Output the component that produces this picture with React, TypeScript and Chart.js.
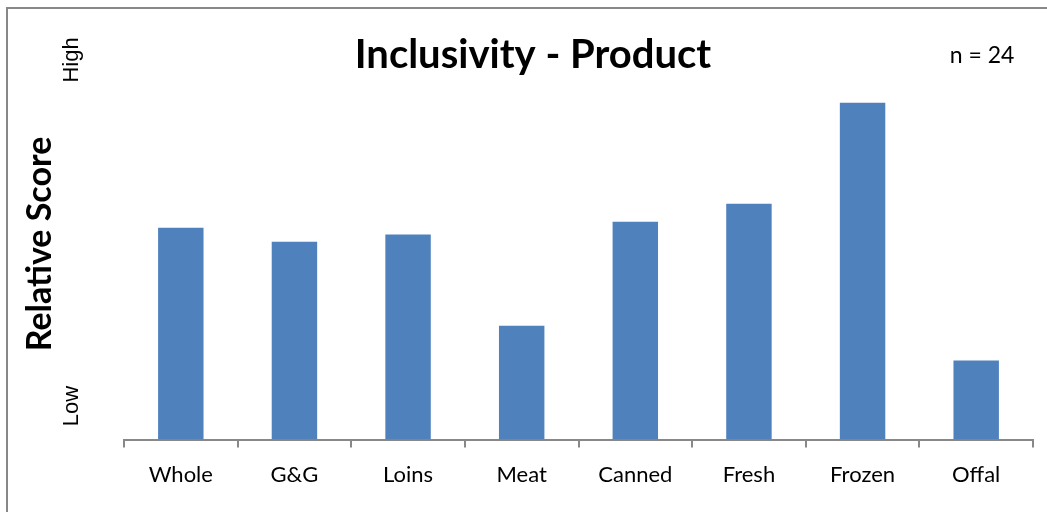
import React, { useEffect, useRef } from "react";
import { Chart, registerables } from "chart.js";

Chart.register(...registerables);

const categories = ["Whole", "G&G", "Loins", "Meat", "Canned", "Fresh", "Frozen", "Offal"];
const scores = [53, 49.5, 51.3, 28.5, 54.5, 59, 84.3, 19.8];
const titleText = "Inclusivity - Product";
const sampleText = "n = 24";
const yAxisTitle = "Relative Score";
const highLabel = "High";
const lowLabel = "Low";

const FONT = "Lato, 'Open Sans', sans-serif";

const decorPlugin = {
  id: "decor",
  afterDraw(chart: any) {
    const ctx = chart.ctx as CanvasRenderingContext2D;
    ctx.save();
    // outer border
    ctx.strokeStyle = "#888888";
    ctx.lineWidth = 2;
    ctx.beginPath();
    ctx.moveTo(7, 530);
    ctx.lineTo(7, 8);
    ctx.lineTo(1060, 8);
    ctx.stroke();

    ctx.fillStyle = "#000000";
    // title
    ctx.font = `bold 40px ${FONT}`;
    ctx.textAlign = "center";
    ctx.textBaseline = "middle";
    ctx.fillText(titleText, 533, 55);

    // n = 24
    ctx.font = `23px ${FONT}`;
    ctx.fillText(sampleText, 982, 56);

    // rotated labels
    const rot = (text: string, x: number, y: number, font: string) => {
      ctx.save();
      ctx.translate(x, y);
      ctx.rotate(-Math.PI / 2);
      ctx.font = font;
      ctx.textAlign = "center";
      ctx.textBaseline = "middle";
      ctx.fillText(text, 0, 0);
      ctx.restore();
    };
    rot(highLabel, 72, 60, "22px 'Liberation Sans', Arial, sans-serif");
    rot(lowLabel, 72, 406, "22px 'Liberation Sans', Arial, sans-serif");
    rot(yAxisTitle, 40, 244, `bold 34px ${FONT}`);
    ctx.restore();
  },
};

export default function App() {
  const canvasRef = useRef<HTMLCanvasElement | null>(null);

  useEffect(() => {
    if (!canvasRef.current) return;
    const chart = new Chart(canvasRef.current, {
      type: "bar",
      data: {
        labels: categories,
        datasets: [
          {
            data: scores,
            backgroundColor: "#4F81BD",
            borderWidth: 0,
            categoryPercentage: 1,
            barPercentage: 0.4,
          },
        ],
      },
      options: {
        animation: false,
        responsive: false,
        layout: { padding: { left: 124, right: 14, top: 40, bottom: 10 } },
        plugins: {
          legend: { display: false },
          title: { display: false },
          tooltip: { enabled: false },
        },
        scales: {
          x: {
            offset: true,
            grid: {
              offset: true,
              drawOnChartArea: false,
              drawTicks: true,
              tickLength: 8,
              color: "#888888",
              lineWidth: 2,
            },
            border: { display: true, color: "#888888", width: 2 },
            ticks: {
              color: "#000000",
              font: { family: FONT, size: 22 },
              padding: 14,
              maxRotation: 0,
            },
          },
          y: {
            display: false,
            min: 0,
            max: 100,
          },
        },
      },
      plugins: [decorPlugin],
    });
    return () => chart.destroy();
  }, []);

  return (
    <div style={{ position: "fixed", left: 0, top: 0, width: 1047, height: 512, background: "#ffffff" }}>
      <canvas ref={canvasRef} width={1047} height={512} style={{ display: "block" }} />
    </div>
  );
}
